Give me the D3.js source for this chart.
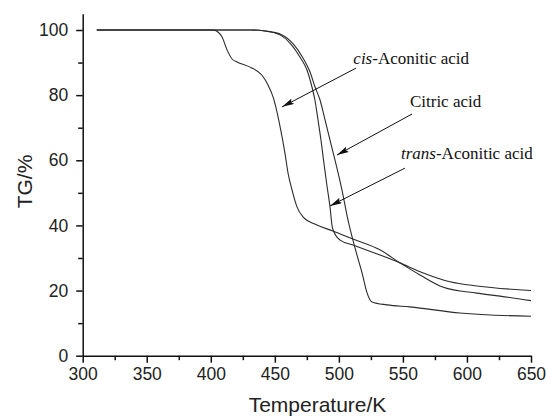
<!DOCTYPE html>
<html lang="en">
	<head>
		<meta charset="utf-8">
		<title>D3: TG curves</title>
		<script src="https://d3js.org/d3.v7.min.js"></script>
		<style type="text/css">
			body{margin:0; background:#fff;}
			.curve{fill:none; stroke:#2b2b2b; stroke-width:1.1px;}
			.axis path, .axis line{stroke:#111; stroke-width:1.5px;}
			.axis text{font-family:"Liberation Sans", Arial, sans-serif; font-size:17.5px; fill:#222;}
			.title{font-family:"Liberation Sans", Arial, sans-serif; font-size:21px; fill:#222;}
			.note{font-family:"Liberation Serif", "Times New Roman", serif; font-size:17px; fill:#111;}
		</style>
	</head>
	<body>
		<script type="text/javascript">

			// cis-Aconitic acid
			var tempCis = [311, 401.7, 405.6, 408.7, 412.7, 416.6, 420.5, 430.6, 440, 444.7, 449, 453.5, 457.9, 460.3, 463.4, 467.3, 472, 482.9, 495.4, 511, 532.1, 547.7, 563.3, 581.5, 607.6, 625.8, 650];
			var tgCis   = [100, 100, 99.4, 97.9, 93.9, 91.1, 90.2, 88.6, 86.1, 83.1, 79, 71.5, 62.2, 56.1, 50.9, 45.7, 42.6, 40.1, 38.3, 35.8, 32.5, 28.5, 24.8, 21.0, 19.2, 18.3, 16.9];

			// trans-Aconitic acid
			var tempTrans = [311, 430.7, 442.3, 454, 461.8, 469.6, 475.1, 479, 481.3, 483.7, 486, 488.2, 490.6, 493.1, 494.8, 497.5, 501, 511, 532.1, 547.7, 563.4, 586.8, 607.9, 650];
			var tgTrans   = [100, 100, 99.7, 98.5, 96, 91.7, 87.7, 82.5, 78.5, 72.4, 66.3, 59.5, 52.5, 45.6, 39.6, 37, 35.5, 34.0, 30.9, 28.5, 25.8, 22.7, 21.4, 20.0];

			// Citric acid
			var tempCitric = [311, 430.7, 442.3, 455.6, 464.2, 472, 477.5, 481.4, 485.3, 489.2, 493.1, 502.4, 507.1, 512.6, 518.1, 522, 525.9, 537.6, 555.5, 594.5, 650];
			var tgCitric   = [100, 100, 99.7, 98.5, 95.8, 91.4, 87.1, 82.5, 78.5, 72.4, 66.2, 50.9, 41.7, 33.1, 25.4, 19.3, 16.5, 15.6, 15.0, 13.1, 12.1];

			// tick labels
			var xTicks = [300, 350, 400, 450, 500, 550, 600, 650];
			var xMinor = [325, 375, 425, 475, 525, 575, 625];
			var yTicks = [0, 20, 40, 60, 80, 100];
			var yMinor = [10, 30, 50, 70, 90];

			// annotations: label, text position, arrow start, arrow tip (data units)
			var noteItalic = ["cis", "", "trans"];
			var noteText   = ["-Aconitic acid", "Citric acid", "-Aconitic acid"];
			var notePos    = [[511.3, 89.6], [555.5, 76.3], [548.5, 60.3]];
			var arrowFrom  = [[513.4, 88.3], [557.1, 74.2], [551.6, 57.6]];
			var arrowTo    = [[455.7, 76.4], [498.5, 61.6], [493.1, 46.0]];

			var width = 547, height = 417;

			var svg = d3.select("body")
						.append("svg")
						.attr("width", width)
						.attr("height", height);

			var xscale = d3.scaleLinear()
				.domain([300, 650])
				.range([82.7, 531]);

			var yscale = d3.scaleLinear()
				.domain([0, 105])
				.range([355.7, 355.7 - 105 * 3.257]);

			// arrow head
			svg.append("defs").append("marker")
				.attr("id", "head")
				.attr("markerUnits", "userSpaceOnUse")
				.attr("viewBox", "0 0 12 6")
				.attr("refX", 12)
				.attr("refY", 3)
				.attr("markerWidth", 12)
				.attr("markerHeight", 6)
				.attr("orient", "auto")
				.append("path")
				.attr("d", "M0,0 L12,3 L0,6 L2,3 Z")
				.attr("fill", "#111");

			// minor ticks
			svg.append("g")
				.attr("class", "axis")
				.attr("transform", "translate(0," + yscale(0) + ")")
				.call(d3.axisBottom(xscale).tickValues(xMinor).tickSize(4.5).tickFormat(""))
				.select(".domain").remove();
			svg.append("g")
				.attr("class", "axis")
				.attr("transform", "translate(" + xscale(300) + ",0)")
				.call(d3.axisLeft(yscale).tickValues(yMinor).tickSize(4.5).tickFormat(""))
				.select(".domain").remove();

			// x axis
			svg.append("g")
				.attr("class", "axis")
				.attr("transform", "translate(0," + yscale(0) + ")")
				.call(d3.axisBottom(xscale).tickValues(xTicks).tickSize(7).tickPadding(5).tickSizeOuter(0));

			// y axis
			svg.append("g")
				.attr("class", "axis")
				.attr("transform", "translate(" + xscale(300) + ",0)")
				.call(d3.axisLeft(yscale).tickValues(yTicks).tickSize(6.5).tickPadding(8).tickSizeOuter(0));

			// curves
			var line = d3.line()
				.x(function(d){ return xscale(d[0]); })
				.y(function(d){ return yscale(d[1]); })
				.curve(d3.curveMonotoneX);

			var series = [[tempCis, tgCis], [tempTrans, tgTrans], [tempCitric, tgCitric]];
			svg.selectAll(".curve")
				.data(series)
				.enter().append("path")
				.attr("class", "curve")
				.attr("d", function(s){ return line(d3.zip(s[0], s[1])); });

			// arrows
			svg.selectAll(".arrow")
				.data(d3.range(arrowFrom.length))
				.enter().append("line")
				.attr("class", "arrow")
				.attr("x1", function(i){ return xscale(arrowFrom[i][0]); })
				.attr("y1", function(i){ return yscale(arrowFrom[i][1]); })
				.attr("x2", function(i){ return xscale(arrowTo[i][0]); })
				.attr("y2", function(i){ return yscale(arrowTo[i][1]); })
				.attr("stroke", "#111")
				.attr("stroke-width", 1)
				.attr("marker-end", "url(#head)");

			// annotation labels
			var notes = svg.selectAll(".note")
				.data(d3.range(noteText.length))
				.enter().append("text")
				.attr("class", "note")
				.attr("x", function(i){ return xscale(notePos[i][0]); })
				.attr("y", function(i){ return yscale(notePos[i][1]); });
			notes.append("tspan")
				.style("font-style", "italic")
				.text(function(i){ return noteItalic[i]; });
			notes.append("tspan")
				.text(function(i){ return noteText[i]; });

			// axis titles
			svg.append("text")
				.attr("class", "title")
				.attr("transform", "translate(32," + 181.5 + ") rotate(-90)")
				.style("text-anchor", "middle")
				.text("TG/%");

			svg.append("text")
				.attr("class", "title")
				.attr("x", 317.5)
				.attr("y", 412)
				.style("text-anchor", "middle")
				.text("Temperature/K");

		</script>
	</body>
</html>
